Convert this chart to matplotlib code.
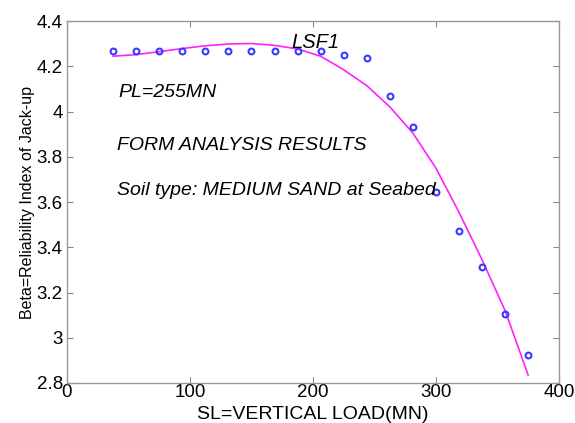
import matplotlib
matplotlib.use("Agg")
import matplotlib.pyplot as plt

plt.rcParams['font.family'] = ['Liberation Sans', 'DejaVu Sans']

# Data
load_mn = [37.5, 56.25, 75, 93.75, 112.5, 131.25, 150, 168.75, 187.5, 206.25,
           225, 243.75, 262.5, 281.25, 300, 318.75, 337.5, 356.25, 375]
beta_points = [4.266, 4.266, 4.266, 4.266, 4.266, 4.266, 4.266, 4.266, 4.266, 4.266,
               4.251, 4.235, 4.068, 3.933, 3.646, 3.472, 3.314, 3.105, 2.922]
beta_fit = [4.245, 4.252, 4.265, 4.279, 4.291, 4.299, 4.301, 4.293, 4.277, 4.245,
            4.185, 4.115, 4.021, 3.905, 3.75, 3.555, 3.345, 3.12, 2.835]
x_ticks = [0, 100, 200, 300, 400]
y_ticks = [2.8, 3.0, 3.2, 3.4, 3.6, 3.8, 4.0, 4.2, 4.4]
y_tick_labels = ['2.8', '3', '3.2', '3.4', '3.6', '3.8', '4', '4.2', '4.4']

fig = plt.figure(figsize=(5.75, 4.23), dpi=100)
ax = fig.add_axes([0.1165, 0.0946, 0.8555, 0.8554])

ax.plot(load_mn, beta_fit, color='#ff22ff', lw=1.2, zorder=2)
ax.plot(load_mn, beta_points, linestyle='none', marker='o', markersize=4.2,
        markerfacecolor='none', markeredgecolor='#3a3aff', markeredgewidth=1.5, zorder=3)

ax.set_xlim(0, 400)
ax.set_ylim(2.8, 4.4)
ax.set_xticks(x_ticks)
ax.set_yticks(y_ticks)
ax.set_yticklabels(y_tick_labels)
ax.tick_params(direction='in', length=4, width=0.8, color='#888888',
               labelsize=13.5, top=True, right=True, pad=3)
ax.tick_params(axis='x', pad=1)
for s in ax.spines.values():
    s.set_color('#999999')
    s.set_linewidth(1.0)

ax.set_xlabel('SL=VERTICAL LOAD(MN)', fontsize=14)
ax.xaxis.set_label_coords(0.5, -0.064)
ax.set_ylabel('Beta=Reliability Index of Jack-up', fontsize=11.5, labelpad=1)

ax.text(202, 4.307, 'LSF1', fontsize=14.5, style='italic', ha='center', va='center')
ax.text(42, 4.086, 'PL=255MN', fontsize=14, style='italic', ha='left', va='center')
ax.text(40.5, 3.852, 'FORM ANALYSIS RESULTS', fontsize=14, style='italic', ha='left', va='center')
ax.text(41, 3.653, 'Soil type: MEDIUM SAND at Seabed', fontsize=14, style='italic',
        ha='left', va='center')

fig.savefig('out.png', dpi=100)
